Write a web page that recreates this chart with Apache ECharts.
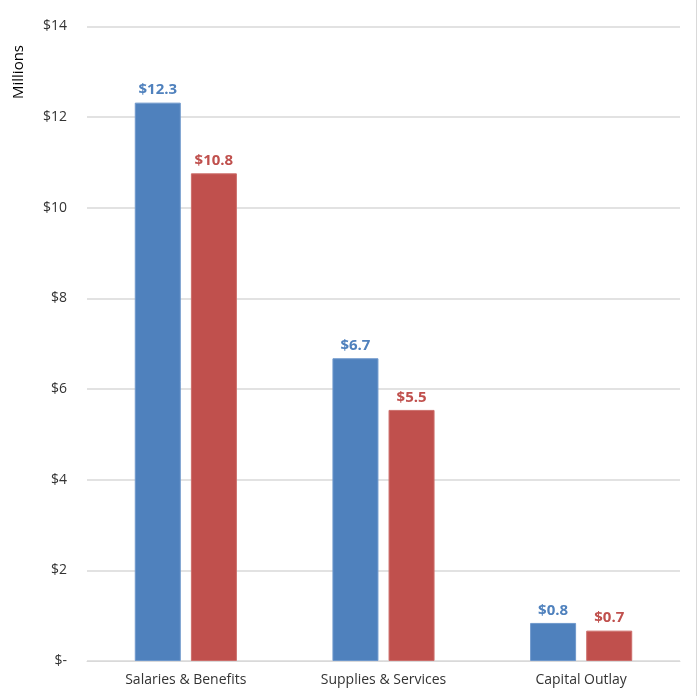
<!DOCTYPE html>
<html>
<head>
<meta charset="utf-8">
<script src="https://cdn.jsdelivr.net/npm/echarts@6/dist/echarts.min.js"></script>
<style>
html,body{margin:0;padding:0;background:#fff;}
#c{width:696px;height:696px;border-right:1px solid #d9d9d9;}
</style>
</head>
<body>
<div id="c"></div>
<script>
var categories = ["Salaries & Benefits", "Supplies & Services", "Capital Outlay"];
var seriesA = [12.32, 6.68, 0.84];
var seriesB = [10.76, 5.54, 0.67];
var yTicks = [0, 2, 4, 6, 8, 10, 12, 14];
var yTitle = "Millions";

var font = "'Open Sans', 'Liberation Sans', sans-serif";
var chart = echarts.init(document.getElementById('c'));
function lbl(color) {
  return {
    show: true, position: 'top', distance: 5,
    color: color, fontWeight: 'bold', fontSize: 15, fontFamily: font,
    formatter: function (p) { return '$' + p.value.toFixed(1); }
  };
}
chart.setOption({
  animation: false,
  backgroundColor: '#fff',
  grid: { left: 87, right: 16, top: 26.5, bottom: 35, containLabel: false },
  graphic: [{
    type: 'text', x: 19, y: 72, rotation: Math.PI / 2,
    style: { text: yTitle, fill: '#000', fontSize: 15, fontFamily: font, textAlign: 'center', textVerticalAlign: 'middle' }
  }],
  xAxis: {
    type: 'category', data: categories,
    axisLine: { lineStyle: { color: '#d9d9d9', width: 1 } },
    axisTick: { show: false },
    axisLabel: { color: '#333', fontSize: 14, fontFamily: font, margin: 12 }
  },
  yAxis: {
    type: 'value', min: yTicks[0], max: yTicks[yTicks.length - 1], interval: 2,
    axisLine: { show: false }, axisTick: { show: false },
    splitLine: { lineStyle: { color: '#d9d9d9', width: 1.5 } },
    axisLabel: {
      color: '#333', fontSize: 14, fontFamily: font, margin: 20,
      formatter: function (v) { return v === 0 ? '$-' : '$' + v; }
    }
  },
  series: [
    { type: 'bar', data: seriesA, barWidth: 46, barGap: '22%',
      itemStyle: { color: '#4F81BD', borderColor: '#6f98cc', borderWidth: 1 }, label: lbl('#4F81BD') },
    { type: 'bar', data: seriesB, barWidth: 46,
      itemStyle: { color: '#C0504D', borderColor: '#cc6e6b', borderWidth: 1 }, label: lbl('#C0504D') }
  ]
});
</script>
</body>
</html>
